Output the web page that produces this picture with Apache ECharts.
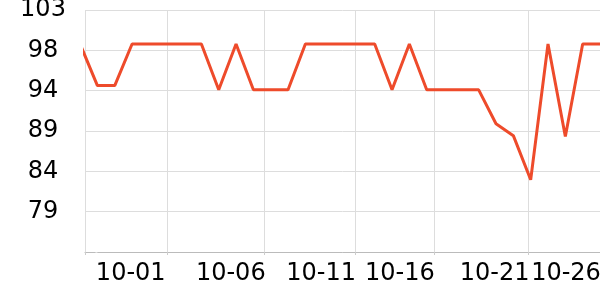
<!DOCTYPE html>
<html>
<head>
<meta charset="utf-8">
<script src="https://cdn.jsdelivr.net/npm/echarts@6/dist/echarts.min.js"></script>
<style>html,body{margin:0;padding:0;background:#fff}#c{width:600px;height:300px}</style>
</head>
<body>
<div id="c"></div>
<script>
// day offsets of each data point (first one lies just left of the visible range)
const xDays = [-1, 0, 1, 2, 3, 4, 5, 6, 7, 8, 9, 10, 11, 12, 13, 14, 15, 16, 17, 18, 19, 20, 21, 22, 23, 24, 25, 26, 27, 28, 29];
const values = [99, 94.1, 94.1, 99, 99, 99, 99, 99, 93.6, 99, 93.6, 93.6, 93.6, 99, 99, 99, 99, 99, 93.6, 99, 93.6, 93.6, 93.6, 93.6, 89.6, 88.2, 83.0, 99, 88.1, 99, 99];
// x grid/tick positions and label positions (in day units)
const xTickDays = [-0.716, 4.018, 9.619, 14.873, 19.434, 24.885, 29];
const xLabelDays = [1.923, 7.696, 12.91, 17.454, 22.921, 27.038];
const xLabelTexts = ['10-01', '10-06', '10-11', '10-16', '10-21', '10-26'];
// y ticks
const yTicks = [74.5, 79.25, 84, 88.75, 93.5, 98.25, 103];
const yLabelTicks = [79.25, 84, 88.75, 93.5, 98.25, 103];

const chart = echarts.init(document.getElementById('c'), null, {renderer: 'canvas'});
const font = 'DejaVu Sans';
chart.setOption({
  animation: false,
  grid: {left: 85, right: 0, top: 10, bottom: 48, containLabel: false, outerBoundsMode: 'none'},
  xAxis: {
    type: 'value',
    min: xTickDays[0],
    max: xTickDays[xTickDays.length - 1],
    axisLine: {show: true, lineStyle: {color: '#bbbbbb', width: 1}},
    axisTick: {show: true, length: 3, customValues: xTickDays, lineStyle: {color: '#cccccc'}},
    splitLine: {show: true, lineStyle: {color: '#dddddd', width: 1}},
    axisLabel: {
      customValues: xLabelDays,
      fontFamily: font, fontSize: 24, color: '#000', margin: 10,
      hideOverlap: false,
      formatter: function (v) {
        let best = 0;
        for (let i = 1; i < xLabelDays.length; i++) {
          if (Math.abs(xLabelDays[i] - v) < Math.abs(xLabelDays[best] - v)) best = i;
        }
        return xLabelTexts[best];
      }
    }
  },
  yAxis: {
    type: 'value',
    min: yTicks[0],
    max: yTicks[yTicks.length - 1],
    axisLine: {show: false},
    axisTick: {show: true, length: 2, customValues: yTicks, lineStyle: {color: '#dddddd'}},
    splitLine: {show: true, lineStyle: {color: '#dddddd', width: 1}},
    axisLabel: {
      customValues: yLabelTicks,
      fontFamily: font, fontSize: 24, color: '#000', margin: 42, align: 'center',
      formatter: function (v) { return String(Math.round(v)); }
    }
  },
  series: [{
    type: 'line',
    data: xDays.map((d, i) => [d, values[i]]),
    symbol: 'none',
    clip: true,
    lineStyle: {color: '#ee4b2b', width: 3},
    itemStyle: {color: '#ee4b2b'}
  }]
});
</script>
</body>
</html>
